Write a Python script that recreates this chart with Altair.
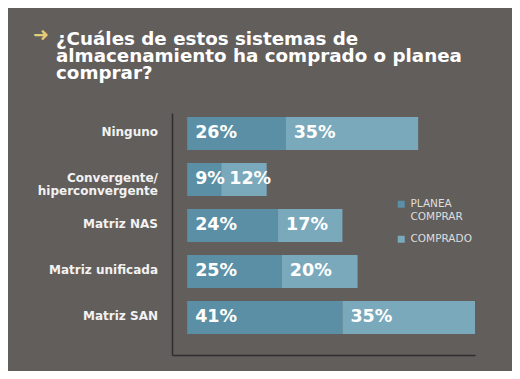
import altair as alt
import pandas as pd

categories = ["Ninguno", "Convergente/hiperconvergente", "Matriz NAS", "Matriz unificada", "Matriz SAN"]
planea = [26, 9, 24, 25, 41]
comprado = [35, 12, 17, 20, 35]
series = ["PLANEA COMPRAR", "COMPRADO"]
title_lines = ["¿Cuáles de estos sistemas de", "almacenamiento ha comprado o planea", "comprar?"]

BG = "#625e5c"
DARK = "#5a8fa6"
LIGHT = "#7aa9bc"
FONT = "DejaVu Sans"

rows = []
for c, p, m in zip(categories, planea, comprado):
    rows.append({"cat": c, "serie": series[0], "value": p, "order": 0})
    rows.append({"cat": c, "serie": series[1], "value": m, "order": 1})
df = pd.DataFrame(rows)

base = alt.Chart(df).transform_stack(
    stack="value", groupby=["cat"], as_=["x0", "x1"], sort=[alt.SortField("order")]
).transform_calculate(label="datum.value + '%'")

y_scale = alt.Scale(paddingInner=0.283, paddingOuter=0.272, align=0.16)
y_enc = alt.Y(
    "cat:N",
    sort=categories,
    scale=y_scale,
    axis=alt.Axis(title=None, ticks=False, labels=False, domainColor="#2e2e2e", domainWidth=1.5),
)
x_scale = alt.Scale(domain=[-4, 76], nice=False, zero=False)
x_axis = alt.Axis(title=None, labels=False, ticks=False, grid=False, domainColor="#2e2e2e", domainWidth=1.5)

bars = base.mark_bar().encode(
    x=alt.X("x0:Q", scale=x_scale, axis=x_axis),
    x2="x1:Q",
    y=y_enc,
    color=alt.Color(
        "serie:N",
        scale=alt.Scale(domain=series, range=[DARK, LIGHT]),
        legend=alt.Legend(
            title=None, orient="none", legendX=224, legendY=86, padding=0,
            symbolType="square", symbolSize=49, symbolStrokeWidth=0,
            labelFont=FONT, labelFontSize=10.5, labelColor="#dedede", labelOffset=4,
            labelExpr="datum.label == 'PLANEA COMPRAR' ? ['PLANEA', 'COMPRAR'] : datum.label",
            rowPadding=11,
        ),
    ),
)

texts = base.mark_text(
    align="left", baseline="middle", dx=8, font=FONT, fontSize=17.5, fontWeight="bold", color="white"
).encode(
    x=alt.X("x0:Q", scale=x_scale),
    y=alt.Y("cat:N", sort=categories),
    text="label:N",
)

cat_labels = alt.Chart(pd.DataFrame({"cat": categories})).transform_calculate(
    txt="replace(datum.cat, '/', '/\\n')"
).mark_text(
    align="right", baseline="middle", lineBreak="\n", lineHeight=13, dy=-1,
    font=FONT, fontSize=12, fontWeight="bold", color="#f2f2f2",
).encode(
    x=alt.value(-14),
    y=alt.Y("cat:N", sort=categories),
    text="txt:N",
)

arrow = alt.Chart(pd.DataFrame({"t": ["➜"]})).mark_text(
    align="left", baseline="middle", font=FONT, fontSize=19, fontWeight="bold", color="#e3cd78"
).encode(x=alt.value(-139), y=alt.value(-78), text="t:N")

chart = alt.layer(bars, texts, cat_labels, arrow).properties(
    width=303,
    height=242,
    background=BG,
    padding={"left": 164, "top": 105, "right": 37, "bottom": 16},
    autosize=alt.AutoSizeParams(type="none"),
    title=alt.TitleParams(
        text=title_lines, anchor="start", frame="group", font=FONT, fontSize=18.3, fontWeight="bold",
        color="white", dx=-116, dy=57, baseline="top", lineHeight=17, offset=0,
    ),
).configure_view(stroke=None)

chart.save("out.html", embed_options={"renderer": "svg", "actions": False})
